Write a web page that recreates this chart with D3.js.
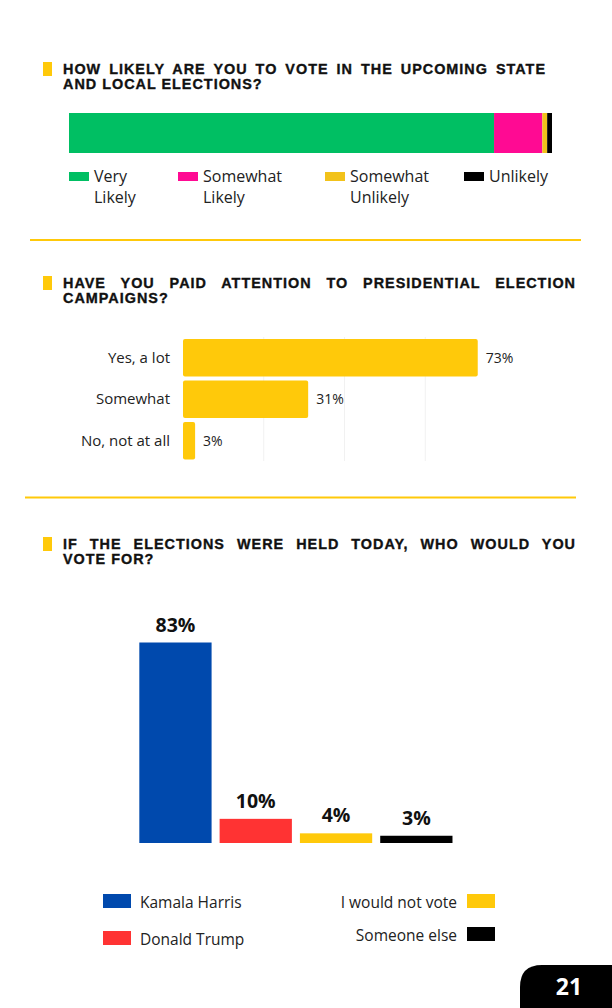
<!doctype html>
<html>
<head>
  <meta charset="utf-8">
  <title>election survey</title>
  <style>
    html, body { margin: 0; padding: 0; background: #fff; }
    svg { display: block; }
    .title { font-family: "Liberation Sans", Arial, sans-serif; font-weight: 700; font-size: 14.4px; letter-spacing: 1px; fill: #111; stroke: #111; stroke-width: 0.35px; }
    .lbl { font-family: "Open Sans", sans-serif; font-size: 16px; fill: #222; }
  </style>
</head>
<body>
  <div id="chart"></div>
  <script src="https://cdn.jsdelivr.net/npm/d3@7"></script>
  <script>
    // ---- data ----
    const likelyCats = ['Very Likely', 'Somewhat Likely', 'Somewhat Unlikely', 'Unlikely'];
    const likelyVals = [88, 10, 1, 1];
    const likelyColors = ['#00BF63', '#FF0A93', '#F2C21A', '#000000'];

    const attentionCats = ['Yes, a lot', 'Somewhat', 'No, not at all'];
    const attentionVals = [73, 31, 3];
    const attentionTicks = [20, 40, 60];

    const voteCats = ['Kamala Harris', 'Donald Trump', 'I would not vote', 'Someone else'];
    const voteVals = [83, 10, 4, 3];
    const voteColors = ['#0049AD', '#FF3333', '#FFC90A', '#000000'];

    // justified first lines get a target width, last lines are left as they are
    const titles = [
      { lines: ['HOW LIKELY ARE YOU TO VOTE IN THE UPCOMING STATE', 'AND LOCAL ELECTIONS?'], y: 74, widths: [483, null] },
      { lines: ['HAVE YOU PAID ATTENTION TO PRESIDENTIAL ELECTION', 'CAMPAIGNS?'], y: 288, widths: [513, null] },
      { lines: ['IF THE ELECTIONS WERE HELD TODAY, WHO WOULD YOU', 'VOTE FOR?'], y: 549, widths: [513, null] }
    ];

    const W = 612, H = 1008;
    const svg = d3.select('#chart').append('svg').attr('width', W).attr('height', H);

    // titles + yellow markers
    titles.forEach(t => {
      svg.append('rect').attr('x', 43).attr('y', t.y - 12).attr('width', 9).attr('height', 14).attr('fill', '#FFC90A');
      t.lines.forEach((line, i) => {
        const txt = svg.append('text').attr('class', 'title')
          .attr('x', 63).attr('y', t.y + i * 15)
          .text(line);
        if (t.widths[i]) {
          const gaps = line.split(' ').length - 1;
          const natural = txt.node().getComputedTextLength();
          txt.style('word-spacing', ((t.widths[i] - natural) / gaps) + 'px');
        }
      });
    });

    // dividers
    svg.append('line').attr('x1', 30).attr('x2', 581).attr('y1', 240).attr('y2', 240)
      .attr('stroke', '#FFC90A').attr('stroke-width', 2);
    svg.append('line').attr('x1', 25).attr('x2', 576).attr('y1', 497.5).attr('y2', 497.5)
      .attr('stroke', '#FFC90A').attr('stroke-width', 2);

    // ---- chart 1: stacked bar ----
    const x1 = d3.scaleLinear().domain([0, d3.sum(likelyVals)]).range([69, 552]);
    const cum = d3.cumsum(likelyVals);
    svg.append('g').selectAll('rect').data(likelyVals).join('rect')
      .attr('x', (d, i) => x1(cum[i] - d))
      .attr('y', 113).attr('height', 40)
      .attr('width', (d, i) => x1(cum[i]) - x1(cum[i] - d))
      .attr('fill', (d, i) => likelyColors[i]);

    const leg1X = [69, 178, 325, 464];
    const leg1 = svg.append('g').selectAll('g').data(likelyCats).join('g')
      .attr('transform', (d, i) => `translate(${leg1X[i]},0)`);
    leg1.append('rect').attr('y', 172).attr('width', 20).attr('height', 9)
      .attr('fill', (d, i) => likelyColors[i]);
    leg1.append('text').attr('class', 'lbl').attr('y', 182)
      .each(function (d) {
        const words = d === 'Unlikely' ? [d] : d.split(' ');
        d3.select(this).selectAll('tspan').data(words).join('tspan')
          .attr('x', 25).attr('dy', (w, j) => j ? 21 : 0).text(w => w);
      });

    // ---- chart 2: horizontal bars ----
    const x2 = d3.scaleLinear().domain([0, 80]).range([183, 506]);
    const y2 = d3.scaleBand().domain(attentionCats).range([337, 461.5]).paddingInner(0.1).paddingOuter(0.05);

    svg.append('g').selectAll('line').data(attentionTicks).join('line')
      .attr('x1', d => x2(d)).attr('x2', d => x2(d))
      .attr('y1', 337).attr('y2', 461)
      .attr('stroke', '#f1f1f1').attr('stroke-width', 1);

    svg.append('g').selectAll('rect').data(attentionVals).join('rect')
      .attr('x', x2(0)).attr('y', (d, i) => y2(attentionCats[i]))
      .attr('width', d => x2(d) - x2(0)).attr('height', y2.bandwidth())
      .attr('rx', 2).attr('fill', '#FFC90A');

    svg.append('g').selectAll('text').data(attentionCats).join('text')
      .attr('class', 'lbl').style('font-size', '15px')
      .attr('x', 170).attr('y', d => y2(d) + y2.bandwidth() / 2 + 5)
      .attr('text-anchor', 'end').text(d => d);

    svg.append('g').selectAll('text').data(attentionVals).join('text')
      .attr('class', 'lbl').style('font-size', '14px')
      .attr('x', d => x2(d) + 8).attr('y', (d, i) => y2(attentionCats[i]) + y2.bandwidth() / 2 + 5)
      .text(d => d + '%');

    // ---- chart 3: columns ----
    const x3 = d3.scaleBand().domain(voteCats).range([135.3, 456.5]).paddingInner(0.1).paddingOuter(0.05);
    const y3 = d3.scaleLinear().domain([0, 83]).range([843, 642.5]);

    svg.append('g').selectAll('rect').data(voteVals).join('rect')
      .attr('x', (d, i) => x3(voteCats[i])).attr('width', x3.bandwidth())
      .attr('y', d => y3(d)).attr('height', d => y3(0) - y3(d))
      .attr('fill', (d, i) => voteColors[i]);

    svg.append('g').selectAll('text').data(voteVals).join('text')
      .attr('x', (d, i) => x3(voteCats[i]) + x3.bandwidth() / 2)
      .attr('y', d => y3(d) - 11)
      .attr('text-anchor', 'middle')
      .style('font-family', '"Open Sans", sans-serif').style('font-weight', 700)
      .style('font-size', '19.5px').attr('fill', '#111')
      .text(d => d + '%');

    // legend 3
    const leg3 = [
      { x: 103, y: 894, anchor: 'start' },
      { x: 103, y: 931, anchor: 'start' },
      { x: 467, y: 894, anchor: 'end' },
      { x: 467, y: 927, anchor: 'end' }
    ];
    const lg3 = svg.append('g').selectAll('g').data(voteCats).join('g');
    lg3.append('rect').attr('x', (d, i) => leg3[i].x).attr('y', (d, i) => leg3[i].y)
      .attr('width', 28).attr('height', 14).attr('fill', (d, i) => voteColors[i]);
    lg3.append('text').attr('class', 'lbl').style('font-size', '15.5px')
      .attr('x', (d, i) => leg3[i].anchor === 'start' ? leg3[i].x + 37 : leg3[i].x - 10)
      .attr('y', (d, i) => leg3[i].y + 14)
      .attr('text-anchor', (d, i) => leg3[i].anchor)
      .text(d => d);

    // page number tab
    const r = 22;
    svg.append('path')
      .attr('d', `M520,${H} L520,${965 + r} Q520,965 ${520 + r},965 L${W},965 L${W},${H} Z`)
      .attr('fill', '#000');
    svg.append('text').attr('x', 569).attr('y', 995).attr('text-anchor', 'middle')
      .style('font-family', '"Open Sans", sans-serif').style('font-weight', 700)
      .style('font-size', '23px').attr('fill', '#fff').text('21');
  </script>
</body>
</html>
